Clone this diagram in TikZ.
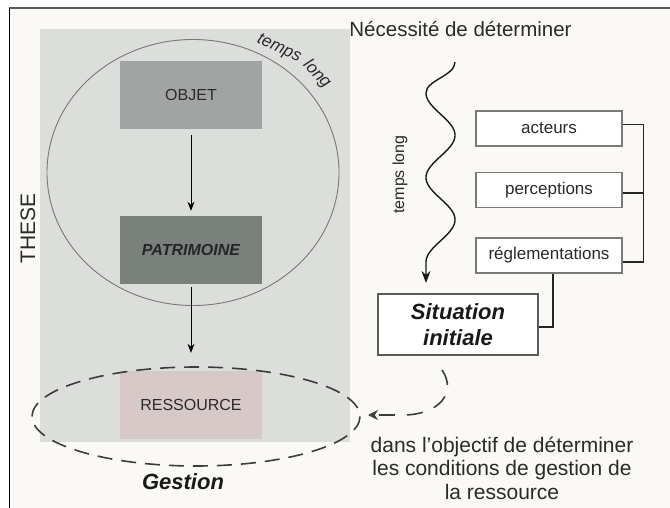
\documentclass[tikz,border=0pt]{standalone}
\usepackage{fontspec}
\setmainfont{Liberation Sans}
\usetikzlibrary{arrows.meta}
\definecolor{bg}{HTML}{FAF9F5}
\definecolor{panel}{HTML}{DCDEDB}
\definecolor{objetfill}{HTML}{A2A4A4}
\definecolor{patrfill}{HTML}{7A807C}
\definecolor{ressfill}{HTML}{D8C9C9}
\definecolor{framegray}{HTML}{5A5A5A}
\definecolor{circgray}{HTML}{777777}
\definecolor{boxgray}{HTML}{7A7A7A}
\definecolor{txtdark}{HTML}{2A2A2A}
\definecolor{dashgray}{HTML}{3C3C3C}
\tikzset{
  graybox/.style={rectangle, minimum width=142pt, minimum height=68pt, inner sep=0pt, font=\fontsize{16}{19}\selectfont, text=txtdark},
  rbox/.style={rectangle, draw=boxgray, line width=1.1pt, fill=white, minimum width=146pt, minimum height=35pt, inner sep=0pt, font=\fontsize{17}{20}\selectfont, text=txtdark},
  sitbox/.style={rectangle, draw=framegray, line width=1.5pt, fill=white, minimum width=160pt, minimum height=61pt, inner sep=0pt, align=center, font=\fontsize{22}{26}\selectfont\bfseries\itshape, text=black!90},
  arr/.style={draw=black, line width=0.9pt, -{Stealth[length=9pt,width=7pt]}},
  bracket/.style={draw=black!85, line width=1.4pt},
  dashline/.style={draw=dashgray, line width=1.6pt, dash pattern=on 15pt off 9pt},
  plaintext/.style={inner sep=0pt, text=txtdark},
  arctext/.style={inner sep=0pt, text=txtdark, font=\fontsize{17}{17}\selectfont\itshape}
}
\begin{document}
\begin{tikzpicture}[x=1pt,y=-1pt]
\useasboundingbox (0,0) rectangle (670,508);
\fill[white] (0,0) rectangle (670,508);
\fill[bg] (9,8) rectangle (670,508);
\draw[framegray, line width=2pt] (9,8.5) -- (670,8.5);
\draw[black, line width=1pt] (9,8) -- (9,508);

% THESE panel
\fill[panel] (40,29) rectangle (350,442);
\draw[circgray, line width=0.9pt] (193,172.5) ellipse [x radius=146, y radius=133];
\node[arctext, rotate=-24] (tl1) at (279,49) {temps};
\node[arctext, rotate=-46] (tl2) at (317,74) {long};

\node[graybox, fill=objetfill] (objet) at (191,95) {OBJET};
\node[graybox, fill=patrfill, font=\fontsize{16}{19}\selectfont\bfseries\itshape, text=black!85] (patr) at (191,250) {PATRIMOINE};
\node[graybox, fill=ressfill] (ress) at (191,405) {RESSOURCE};

\draw[arr, shorten <=6pt, shorten >=5pt] (objet.south) -- (patr.north);
\draw[arr, shorten <=3pt, shorten >=18pt] (patr.south) -- (ress.north);

\node[plaintext, rotate=90, font=\fontsize{21}{24}\selectfont] (these) at (28,228) {THESE};

\draw[dashline] (196,416.5) ellipse [x radius=164, y radius=49.5];
\node[plaintext, font=\fontsize{22}{26}\selectfont\bfseries\itshape, text=black!90] (gest) at (183,482) {Gestion};

% right side
\node[plaintext, anchor=base, font=\fontsize{20.5}{24}\selectfont] (neces) at (460.5,36.5) {Nécessité de déterminer};
\coordinate (wtop) at (455,62);
\coordinate (wend) at (426,283);
\draw[line width=1.4pt, black!90, -{Stealth[length=12pt,width=9pt]}]
  (wtop) .. controls (455,76) and (426,80) .. (426,93)
  -- plot[variable=\t, domain=93:262, samples=120, smooth] ({440.5-14.5*cos(4.26036*(\t-93))},{\t})
  -- (wend);
\node[plaintext, rotate=90, font=\fontsize{16}{19}\selectfont] (tl) at (400,174.5) {temps long};

\node[rbox] (act) at (549,128.5) {acteurs};
\node[rbox] (per) at (549,190) {perceptions};
\node[rbox] (reg) at (549,255.5) {réglementations};
\node[sitbox] (sit) at (458,324.5) {Situation\\initiale};

\draw[bracket] ([yshift=4pt]act.east) -- ++(21,0) |- ([yshift=-6.5pt]reg.east);
\draw[bracket] ([yshift=-3pt]per.east) -- ++(21,0);
\draw[bracket] ([xshift=4pt]reg.south) |- ([yshift=-2.5pt]sit.east);

\coordinate (ds) at (442,370);
\coordinate (de) at (368,415);
\draw[dashline, dash pattern=on 16pt off 12pt, -{Stealth[length=10pt,width=10pt]}]
  (ds) .. controls (457,392) and (440,414) .. (405,415) -- (de);

\node[plaintext, align=center, font=\fontsize{21}{23.5}\selectfont] (obj) at (502,468)
  {dans l’objectif de déterminer\\les conditions de gestion de\\la ressource};
\end{tikzpicture}
\end{document}
